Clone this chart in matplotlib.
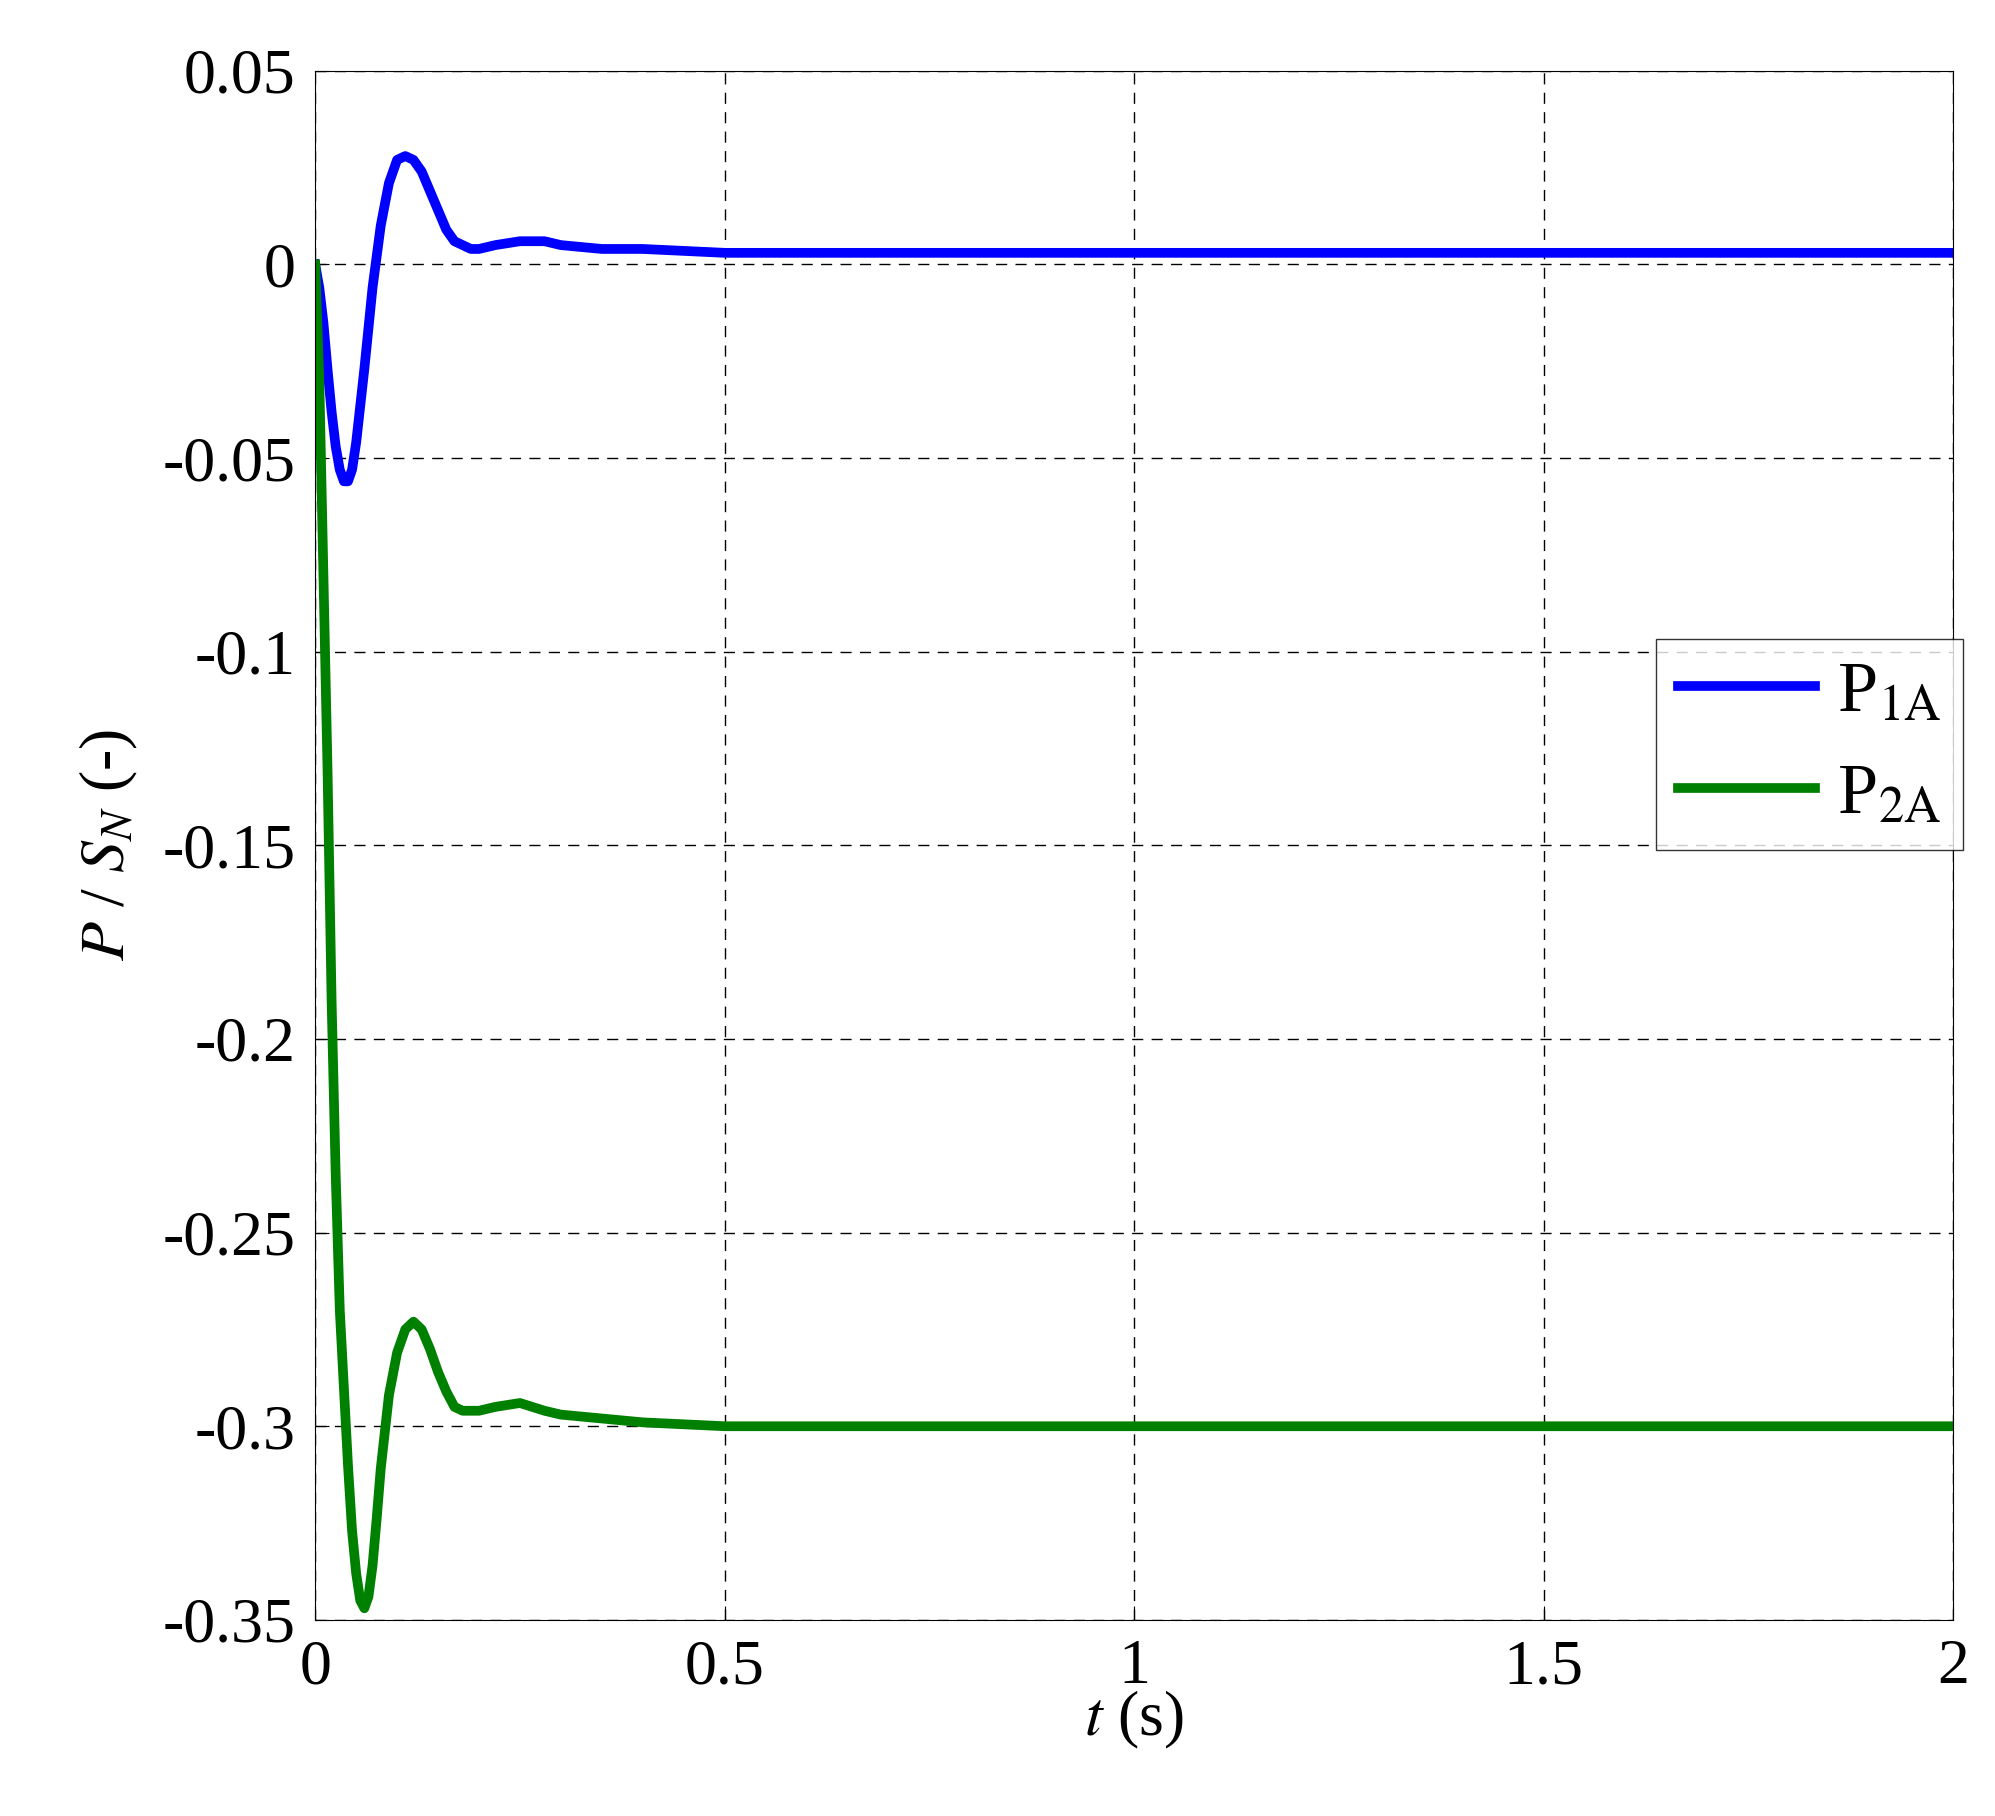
import matplotlib
matplotlib.use("Agg")
import matplotlib.pyplot as plt

t1 = [0, 0.005, 0.01, 0.015, 0.02, 0.025, 0.03, 0.035, 0.04, 0.045, 0.05, 0.06, 0.07, 0.08, 0.09, 0.1, 0.11, 0.12, 0.13, 0.14, 0.15, 0.16, 0.17, 0.18, 0.19, 0.2, 0.22, 0.25, 0.28, 0.3, 0.35, 0.4, 0.5, 0.7, 1.0, 1.5, 2.0]
p1 = [0, -0.006, -0.015, -0.027, -0.038, -0.047, -0.053, -0.056, -0.056, -0.053, -0.046, -0.027, -0.006, 0.01, 0.021, 0.027, 0.028, 0.027, 0.024, 0.019, 0.014, 0.009, 0.006, 0.005, 0.004, 0.004, 0.005, 0.006, 0.006, 0.005, 0.004, 0.004, 0.003, 0.003, 0.003, 0.003, 0.003]
t2 = [0, 0.005, 0.01, 0.015, 0.02, 0.025, 0.03, 0.035, 0.04, 0.045, 0.05, 0.055, 0.06, 0.065, 0.07, 0.075, 0.08, 0.09, 0.1, 0.11, 0.12, 0.13, 0.14, 0.15, 0.16, 0.17, 0.18, 0.19, 0.2, 0.22, 0.25, 0.28, 0.3, 0.35, 0.4, 0.5, 0.7, 1.0, 1.5, 2.0]
p2 = [0, -0.03, -0.08, -0.13, -0.19, -0.235, -0.27, -0.29, -0.31, -0.327, -0.338, -0.345, -0.347, -0.344, -0.336, -0.324, -0.311, -0.292, -0.281, -0.275, -0.273, -0.275, -0.28, -0.286, -0.291, -0.295, -0.296, -0.296, -0.296, -0.295, -0.294, -0.296, -0.297, -0.298, -0.299, -0.3, -0.3, -0.3, -0.3, -0.3]

plt.rcParams['font.family'] = ['Liberation Serif', 'DejaVu Serif']
plt.rcParams['mathtext.fontset'] = 'stix'
fig = plt.figure(figsize=(19.95, 18.16), dpi=100)
ax = fig.add_axes([0.158, 0.108, 0.821, 0.853])
ax.plot(t1, p1, color='#0000ff', lw=7, label='P$_{\\mathrm{1A}}$')
ax.plot(t2, p2, color='#008000', lw=7, label='P$_{\\mathrm{2A}}$')
ax.set_xlim(0, 2)
ax.set_ylim(-0.35, 0.05)
ax.set_xticks([0, 0.5, 1, 1.5, 2])
ax.set_xticklabels(['0', '0.5', '1', '1.5', '2'])
yt = [-0.35, -0.3, -0.25, -0.2, -0.15, -0.1, -0.05, 0, 0.05]
ax.set_yticks(yt)
ax.set_yticklabels(['-0.35', '-0.3', '-0.25', '-0.2', '-0.15', '-0.1', '-0.05', '0', '0.05'])
ax.grid(True, color='black', ls=(0, (8, 6)), lw=1)
ax.tick_params(labelsize=46, direction='in', length=10, pad=14)
ax.set_xlabel('$t$ (s)', fontsize=46, labelpad=-6)
ax.set_ylabel('$P$ / $S_N$ (-)', fontsize=46, labelpad=16)
leg = ax.legend(loc='center right', bbox_to_anchor=(1.006, 0.565), fontsize=52, frameon=True,
                fancybox=False, edgecolor='black', handlelength=1.9, borderpad=0.3,
                handletextpad=0.3, borderaxespad=0)
leg.get_frame().set_linewidth(1)
fig.savefig('out.png')
